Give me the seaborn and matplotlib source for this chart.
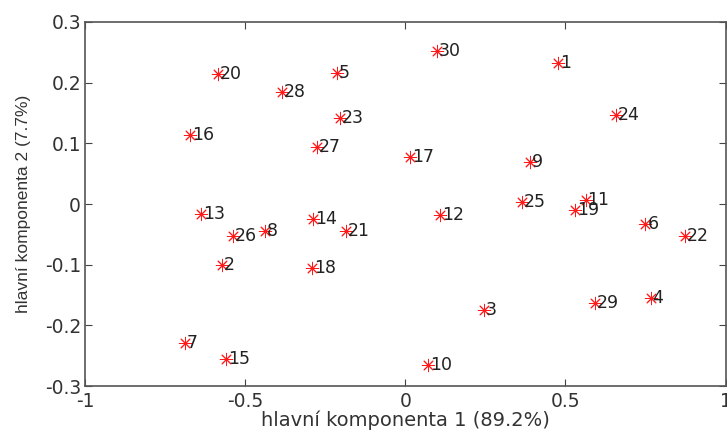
import pandas as pd
import matplotlib
matplotlib.use("Agg")
import matplotlib.pyplot as plt
import seaborn as sns

labels = [str(i) for i in range(1, 31)]
pc1 = [0.476, -0.573, 0.245, 0.766, -0.214, 0.750, -0.688, -0.438, 0.388, 0.070,
       0.563, 0.108, -0.638, -0.289, -0.560, -0.672, 0.014, -0.292, 0.529, -0.585,
       -0.186, 0.872, -0.204, 0.657, 0.363, -0.538, -0.276, -0.385, 0.591, 0.098]
pc2 = [0.232, -0.100, -0.175, -0.155, 0.216, -0.033, -0.229, -0.045, 0.069, -0.265,
       0.007, -0.018, -0.016, -0.025, -0.255, 0.114, 0.077, -0.105, -0.010, 0.214,
       -0.045, -0.053, 0.142, 0.147, 0.003, -0.053, 0.094, 0.185, -0.163, 0.252]

df = pd.DataFrame({"pc1": pc1, "pc2": pc2, "label": labels})

sns.set_style("ticks")
plt.rcParams["font.family"] = ["DejaVu Sans"]

fig = plt.figure(figsize=(7.27, 4.30), dpi=100)
ax = fig.add_axes([0.117, 0.102, 0.881, 0.847])

sns.scatterplot(data=df, x="pc1", y="pc2", marker=(8, 2, 0), color="#ff1a1a",
                s=80, linewidth=0.7, ax=ax)
for _, r in df.iterrows():
    ax.text(r.pc1 + 0.006, r.pc2, r.label, fontsize=12.5, color="#222222",
            va="center", ha="left")

ax.set_xlim(-1, 1)
ax.set_ylim(-0.3, 0.3)
ax.set_xticks([-1, -0.5, 0, 0.5, 1])
ax.set_xticklabels(["-1", "-0.5", "0", "0.5", "1"])
ax.set_yticks([-0.3, -0.2, -0.1, 0, 0.1, 0.2, 0.3])
ax.set_yticklabels(["-0.3", "-0.2", "-0.1", "0", "0.1", "0.2", "0.3"])
ax.tick_params(direction="in", top=True, right=True, labelsize=13.5,
               colors="#444444", labelcolor="#333333", length=5, pad=3)
ax.tick_params(axis="x", pad=4)
for sp in ax.spines.values():
    sp.set_color("#555555")
    sp.set_linewidth(1.2)

ax.set_xlabel("hlavní komponenta 1 (89.2%)", fontsize=14, color="#333333", labelpad=0)
ax.set_ylabel("hlavní komponenta 2 (7.7%)", fontsize=12.5, color="#333333",
              family=["Liberation Sans", "DejaVu Sans"])
ax.yaxis.set_label_coords(-0.085, 0.5)

fig.savefig("out.png", dpi=100)
